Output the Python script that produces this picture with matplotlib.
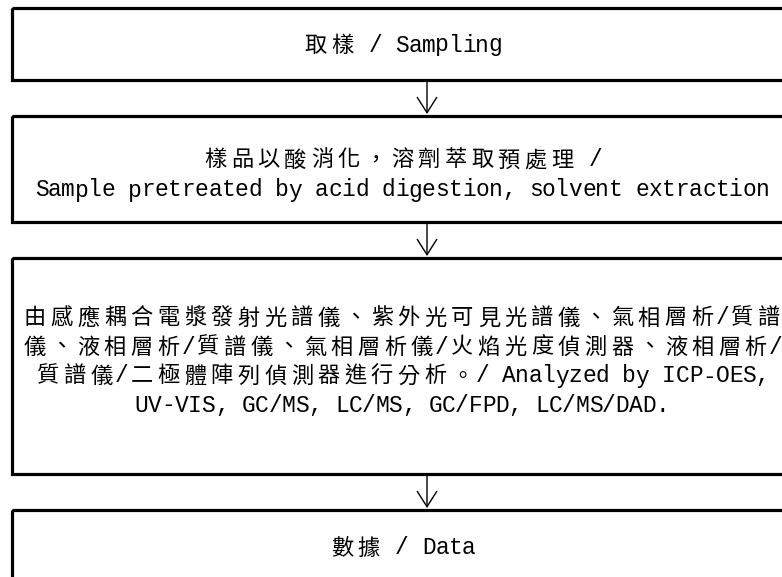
import unicodedata
import matplotlib
matplotlib.use("Agg")
import matplotlib.pyplot as plt
from matplotlib.patches import Rectangle

# flow steps (one list of text lines per box)
step_lines = [
    ["取樣 / Sampling"],
    ["樣品以酸消化，溶劑萃取預處理 /",
     "Sample pretreated by acid digestion, solvent extraction"],
    ["由感應耦合電漿發射光譜儀、紫外光可見光譜儀、氣相層析/質譜",
     "儀、液相層析/質譜儀、氣相層析儀/火焰光度偵測器、液相層析/",
     "質譜儀/二極體陣列偵測器進行分析。/ Analyzed by ICP-OES,",
     "UV-VIS, GC/MS, LC/MS, GC/FPD, LC/MS/DAD."],
    ["數據 / Data"],
]

# layout (pixels, y downwards)
box_top = [8, 116, 258, 510]
box_bot = [80, 222, 474, 620]
text_y = [[45], [160, 190], [318, 347, 376, 405], [548]]
left, right = 12, 800
cx = 402
arrow_x = 427
cell = 13.35   # half-width cell, full-width chars take two


def is_wide(ch):
    return unicodedata.east_asian_width(ch) in ('W', 'F')


def draw_line(ax, s, x0, y):
    # monospaced layout: every char centered in its own cell
    widths = [2 if is_wide(c) else 1 for c in s]
    start = x0 - sum(widths) * cell / 2
    pos = 0
    for c, w in zip(s, widths):
        if c != ' ':
            xc = start + (pos + w / 2) * cell
            if w == 2:
                ax.text(xc, y, c, ha='center', va='center', fontsize=16,
                        family=['Noto Sans CJK TC', 'DejaVu Sans'])
            else:
                ax.text(xc, y, c, ha='center', va='center', fontsize=16.5,
                        family=['Liberation Mono', 'DejaVu Sans Mono'])
        pos += w


fig = plt.figure(figsize=(7.82, 5.77), dpi=100)
ax = fig.add_axes([0, 0, 1, 1])
ax.set_xlim(0, 782)
ax.set_ylim(577, 0)
ax.axis('off')

for i, lines in enumerate(step_lines):
    ax.add_patch(Rectangle((left, box_top[i]), right - left, box_bot[i] - box_top[i],
                           fill=False, lw=2.3, ec='black', clip_on=False))
    for line, y in zip(lines, text_y[i]):
        draw_line(ax, line, cx, y)

for i in range(len(step_lines) - 1):
    ax.annotate('', xy=(arrow_x, box_top[i + 1] - 2), xytext=(arrow_x, box_bot[i]),
                arrowprops=dict(arrowstyle='->,head_length=1.1,head_width=0.7',
                                lw=1.0, color='black', shrinkA=0, shrinkB=0))

fig.savefig('out.png', dpi=100)
